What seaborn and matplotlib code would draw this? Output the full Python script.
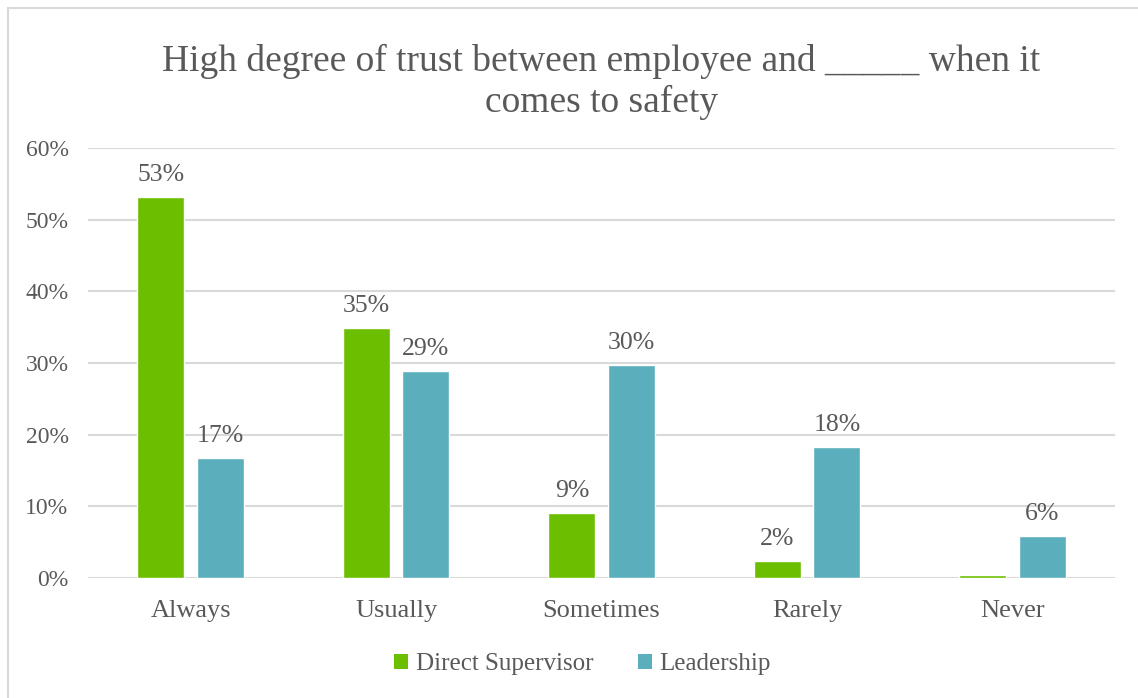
import numpy as np
import pandas as pd
import matplotlib
matplotlib.use('Agg')
import matplotlib.pyplot as plt
import seaborn as sns
from matplotlib.lines import Line2D
from matplotlib.patches import Patch

# Daten
categories = ['Always', 'Usually', 'Sometimes', 'Rarely', 'Never']
direct_supervisor = [53.1, 34.9, 9.1, 2.4, 0.4]
leadership = [16.7, 28.9, 29.7, 18.3, 5.8]
ds_labels = ['53%', '35%', '9%', '2%', '']
ld_labels = ['17%', '29%', '30%', '18%', '6%']
yticks = [0, 10, 20, 30, 40, 50, 60]
title = 'High degree of trust between employee and _____ when it\ncomes to safety'

df = pd.DataFrame({
    'category': categories * 2,
    'value': direct_supervisor + leadership,
    'group': ['Direct Supervisor'] * 5 + ['Leadership'] * 5,
})

sns.set_style('white')
plt.rcParams['font.family'] = ['Liberation Serif', 'DejaVu Serif']
text_color = '#595959'
grid_color = '#D9D9D9'
colors = {'Direct Supervisor': '#6BBF00', 'Leadership': '#5BAFBC'}

fig = plt.figure(figsize=(11.38, 6.98), dpi=100)
ax = fig.add_axes([0.0773, 0.172, 0.9027, 0.616])

sns.barplot(data=df, x='category', y='value', hue='group', palette=colors,
            width=0.58, gap=0.21, saturation=1, legend=False, ax=ax)

# Datenbeschriftungen
for container, labels in zip(ax.containers, [ds_labels, ld_labels]):
    ax.bar_label(container, labels=labels, padding=8, fontsize=18.5, color=text_color)

ax.set_ylim(0, 60)
ax.set_xlim(-0.5, 4.5)
ax.set_yticks(yticks)
ax.set_yticklabels([f'{t}%' for t in yticks])
ax.set_xlabel('')
ax.set_ylabel('')
ax.yaxis.grid(True, color=grid_color, linewidth=1.5)
ax.set_axisbelow(True)
for s in ax.spines.values():
    s.set_visible(False)
ax.tick_params(axis='both', length=0, labelcolor=text_color)
ax.tick_params(axis='y', pad=14, labelsize=17)
ax.tick_params(axis='x', pad=16, labelsize=19)

fig.text(0.5285, 0.882, title, ha='center', va='center', fontsize=27,
         color=text_color, linespacing=1.22)

handles = [Patch(facecolor=colors[g], edgecolor='none') for g in colors]
fig.legend(handles, list(colors), loc='center', bbox_to_anchor=(0.512, 0.048),
           ncol=2, frameon=False, fontsize=18, labelcolor=text_color,
           handlelength=0.55, handleheight=0.55, handletextpad=0.3, columnspacing=1.8)

# Rahmen oben und links
fig.add_artist(Line2D([0.0066, 0.0066], [0, 0.9885], color=grid_color, linewidth=1.5))
fig.add_artist(Line2D([0.0066, 1], [0.9885, 0.9885], color=grid_color, linewidth=1.5))

fig.savefig('out.png', dpi=100, facecolor='white')
